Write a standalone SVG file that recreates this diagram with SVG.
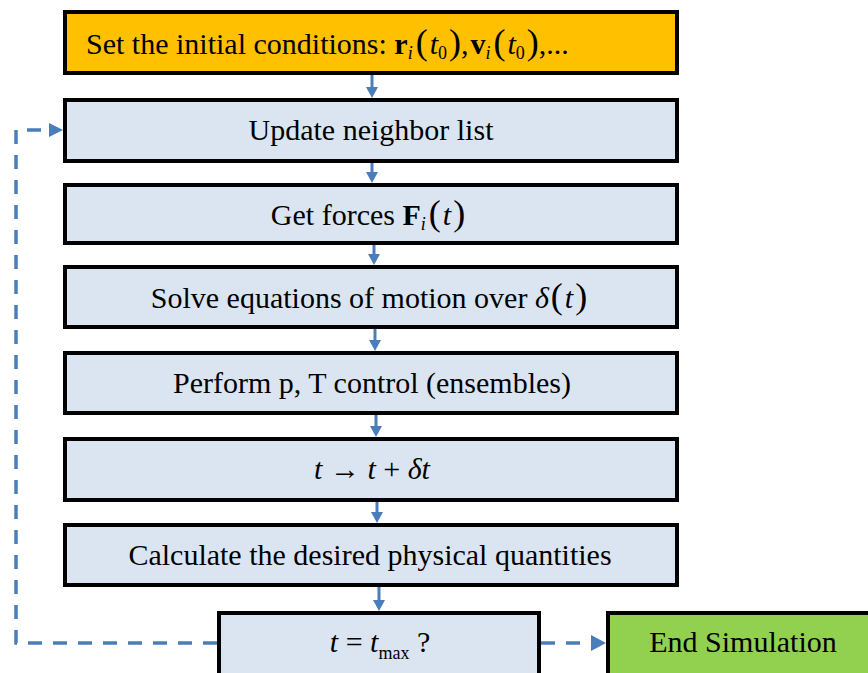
<svg xmlns="http://www.w3.org/2000/svg" width="868" height="673" viewBox="0 0 868 673">
<defs>
<style>
.box{fill:#DBE5F1;stroke:#000;stroke-width:4}
.orange{fill:#FFC000;stroke:#000;stroke-width:4}
.green{fill:#92D050;stroke:#000;stroke-width:4}
text{font-family:'Liberation Serif','DejaVu Serif',serif;font-size:30px;fill:#000;text-anchor:middle}
.it{font-style:italic}
.b{font-weight:bold}
.sub{font-size:18px}
.par{font-size:36px}
.arr{stroke:#4A7EBB;stroke-width:3;fill:none}
.dash{stroke:#4A7EBB;stroke-width:3.5;fill:none;stroke-dasharray:14 11}
.head{fill:#4A7EBB}
</style>
</defs>
<rect width="868" height="673" fill="#fff"/>
<g id="connectors">
<line class="arr" x1="372" y1="75" x2="372" y2="88"/><path class="head" d="M366,87 L378,87 L372,98 z"/>
<line class="arr" x1="372" y1="163" x2="372" y2="173"/><path class="head" d="M366,172 L378,172 L372,183 z"/>
<line class="arr" x1="374" y1="245" x2="374" y2="255"/><path class="head" d="M368,254 L380,254 L374,265 z"/>
<line class="arr" x1="375" y1="329" x2="375" y2="341"/><path class="head" d="M369,340 L381,340 L375,351 z"/>
<line class="arr" x1="376" y1="415" x2="376" y2="427"/><path class="head" d="M370,426 L382,426 L376,437 z"/>
<line class="arr" x1="377" y1="502" x2="377" y2="513"/><path class="head" d="M371,512 L383,512 L377,523 z"/>
<line class="arr" x1="379" y1="587" x2="379" y2="601"/><path class="head" d="M373,600 L385,600 L379,611 z"/>
<path class="dash" d="M217,643 H16 V130 H50"/>
<path class="head" d="M49,123 L63,130 L49,137 z"/>
<path class="dash" d="M541,643 H592"/>
<path class="head" d="M591,635 L606,643 L591,651 z"/>
</g>
<g id="n1">
<rect class="orange" x="65" y="12" width="612" height="61"/>
<text x="86" y="54" style="text-anchor:start">Set the initial conditions: <tspan class="b">r</tspan><tspan class="it sub" dy="5">i</tspan><tspan class="par" dy="-5" dx="3">(</tspan><tspan class="it" dx="2">t</tspan><tspan class="sub" dy="5">0</tspan><tspan class="par" dy="-5" dx="2">)</tspan>,<tspan class="b" dx="2">v</tspan><tspan class="it sub" dy="5">i</tspan><tspan class="par" dy="-5" dx="3">(</tspan><tspan class="it" dx="2">t</tspan><tspan class="sub" dy="5">0</tspan><tspan class="par" dy="-5" dx="2">)</tspan>,...</text>
</g>
<g id="n2">
<rect class="box" x="65" y="100" width="612" height="61"/>
<text x="371" y="140">Update neighbor list</text>
</g>
<g id="n3">
<rect class="box" x="65" y="185" width="612" height="58"/>
<text x="368" y="225">Get forces <tspan class="b">F</tspan><tspan class="it sub" dy="5">i</tspan><tspan class="par" dy="-5" dx="3">(</tspan><tspan class="it" dx="2">t</tspan><tspan class="par" dx="2">)</tspan></text>
</g>
<g id="n4">
<rect class="box" x="65" y="267" width="612" height="60"/>
<text x="369" y="308">Solve equations of motion over <tspan class="it">δ</tspan><tspan class="par" dx="2">(</tspan><tspan class="it" dx="2">t</tspan><tspan class="par" dx="2">)</tspan></text>
</g>
<g id="n5">
<rect class="box" x="65" y="353" width="612" height="60"/>
<text x="372" y="393">Perform p, T control (ensembles)</text>
</g>
<g id="n6">
<rect class="box" x="65" y="439" width="612" height="61"/>
<text x="372" y="479"><tspan class="it">t</tspan> → <tspan class="it">t</tspan> + <tspan class="it">δt</tspan></text>
</g>
<g id="n7">
<rect class="box" x="65" y="525" width="612" height="60"/>
<text x="370" y="565">Calculate the desired physical quantities</text>
</g>
<g id="n8">
<rect class="box" x="219" y="613" width="320" height="64"/>
<text x="380" y="652"><tspan class="it">t</tspan> = <tspan class="it">t</tspan><tspan class="sub" dy="7">max</tspan><tspan dy="-7">  ?</tspan></text>
</g>
<g id="n9">
<rect class="green" x="608" y="613" width="264" height="64"/>
<text x="743" y="652">End Simulation</text>
</g>
</svg>
